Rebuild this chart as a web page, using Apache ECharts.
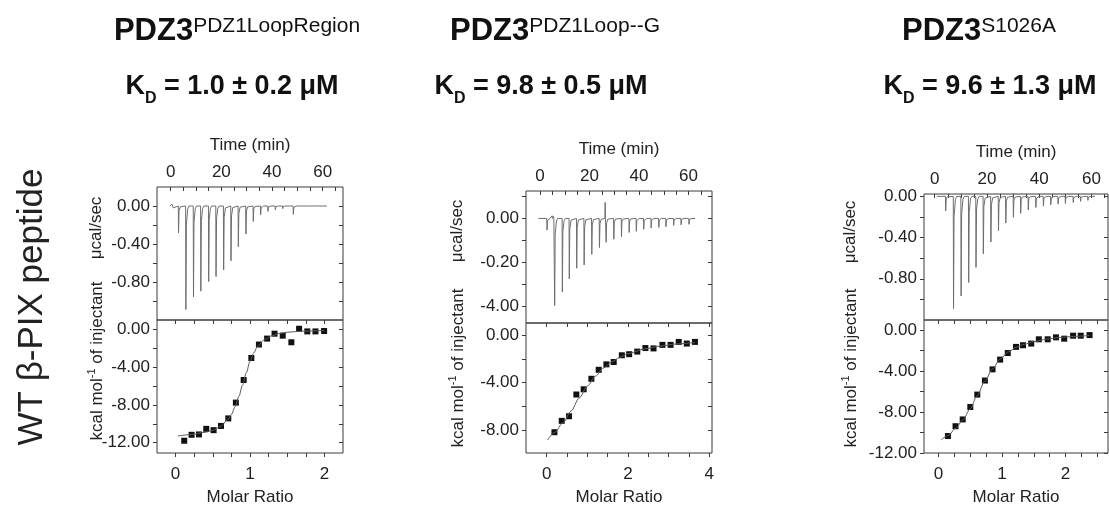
<!DOCTYPE html>
<html>
<head>
<meta charset="utf-8">
<script src="https://cdn.jsdelivr.net/npm/echarts@6/dist/echarts.min.js"></script>
<style>
html,body{margin:0;padding:0;background:#fff;}
#chart{width:1109px;height:507px;}
</style>
</head>
<body>
<div id="chart"></div>
<script>
// ---------- texts ----------
const panelTitles = ['PDZ3', 'PDZ3', 'PDZ3'];
const panelSuperscripts = ['PDZ1LoopRegion', 'PDZ1Loop--G', 'S1026A'];
const kdValues = ['1.0 ± 0.2 μM', '9.8 ± 0.5 μM', '9.6 ± 1.3 μM'];
const rowLabel = 'WT β-PIX peptide';
const timeAxisName = 'Time (min)';
const ratioAxisName = 'Molar Ratio';
const powerAxisName = 'μcal/sec';

// ---------- raw thermograms (injection time in min, peak depth in µcal/sec) ----------
const p1InjTime = [3.0,5.9,8.9,11.8,14.9,17.8,20.8,23.7,26.6,29.6,32.5,35.4,38.3,41.2,44.1,48.3,50.9,53.6,56.4,59.3];
const p1InjPeak = [-0.283,-1.09,-0.956,-0.896,-0.796,-0.743,-0.673,-0.577,-0.428,-0.294,-0.163,-0.092,-0.057,-0.039,-0.028,-0.088,-0.018,-0.014,-0.010,-0.010];
const p1TraceSpan = [-0.3, 61.6];
const p1Blips = [[0.4, 0.02], [0.9, -0.02]];

const p2InjTime = [2.7,5.8,8.9,11.7,14.7,17.7,20.8,23.9,26.6,29.7,32.8,35.9,38.8,41.8,44.8,47.9,50.8,53.9,56.9,60.1];
const p2InjPeak = [-0.053,-0.397,-0.336,-0.276,-0.227,-0.212,-0.164,-0.133,-0.109,-0.095,-0.083,-0.064,-0.059,-0.050,-0.044,-0.041,-0.038,-0.032,-0.029,-0.027];
const p2TraceSpan = [-0.7, 62.7];
const p2Blips = [[4.75, 0.012], [5.3, 0.01], [26.2, 0.073]];

const p3InjTime = [4.1,7.1,10.0,12.9,15.7,18.5,21.4,24.3,27.1,30.0,32.8,35.7,38.6,41.5,44.3,47.1,49.9,52.9,55.7,58.5];
const p3InjPeak = [-0.141,-1.09,-0.967,-0.836,-0.689,-0.557,-0.443,-0.334,-0.259,-0.203,-0.164,-0.131,-0.108,-0.095,-0.082,-0.075,-0.069,-0.059,-0.049,-0.039];
const p3TraceSpan = [0.9, 61.3];
const p3Blips = [];

// ---------- integrated heats ----------
const p1Ratio = [0.116,0.215,0.314,0.412,0.511,0.61,0.708,0.81,0.915,1.018,1.12,1.23,1.33,1.44,1.556,1.66,1.77,1.88,1.996];
const p1Heat  = [-11.8,-11.17,-11.13,-10.54,-10.68,-10.23,-9.43,-7.76,-5.36,-3.03,-1.6,-0.97,-0.45,-0.66,-1.36,0.07,-0.21,-0.21,-0.17];
const p2Ratio = [0.19,0.37,0.55,0.73,0.91,1.10,1.28,1.47,1.65,1.85,2.03,2.23,2.43,2.63,2.85,3.05,3.25,3.45,3.65];
const p2Heat  = [-8.19,-7.23,-6.84,-5.0,-4.56,-3.67,-2.91,-2.45,-2.25,-1.68,-1.59,-1.37,-1.07,-1.10,-0.80,-0.80,-0.55,-0.69,-0.55];
const p3Ratio = [0.147,0.267,0.38,0.50,0.61,0.73,0.85,0.97,1.09,1.22,1.33,1.46,1.58,1.72,1.85,1.98,2.12,2.24,2.38];
const p3Heat  = [-10.35,-9.39,-8.73,-7.52,-6.31,-4.94,-3.85,-2.9,-2.26,-1.66,-1.5,-1.34,-0.92,-0.92,-0.73,-0.86,-0.57,-0.57,-0.51];

// ---------- fitted curves ----------
const p1FitRatio = [0.03,0.2,0.4,0.5,0.6,0.7,0.75,0.8,0.85,0.9,0.95,1.0,1.05,1.1,1.2,1.3,1.4,1.5,1.7,2.0];
const p1FitHeat  = [-11.3,-11.15,-10.9,-10.7,-10.3,-9.6,-9.0,-8.2,-7.1,-5.9,-4.6,-3.4,-2.5,-1.8,-1.05,-0.65,-0.42,-0.3,-0.18,-0.12];
const p2FitRatio = [0.02,0.2,0.4,0.6,0.8,1.0,1.2,1.4,1.6,1.8,2.0,2.4,2.8,3.2,3.65];
const p2FitHeat  = [-8.85,-8.2,-7.4,-6.4,-5.3,-4.3,-3.45,-2.75,-2.25,-1.85,-1.55,-1.15,-0.9,-0.72,-0.6];
const p3FitRatio = [0.04,0.15,0.27,0.38,0.5,0.6,0.73,0.85,0.97,1.1,1.22,1.35,1.5,1.7,1.9,2.1,2.38];
const p3FitHeat  = [-10.73,-10.3,-9.6,-8.8,-7.7,-6.5,-5.0,-3.8,-2.85,-2.15,-1.7,-1.4,-1.15,-0.9,-0.75,-0.65,-0.55];

// ---------- tick labels ----------
const timeTicks = [0, 20, 40, 60];
const timeTickLabels = ['0', '20', '40', '60'];
const p1PowerTicks = [0, -0.4, -0.8];
const p1PowerTickLabels = ['0.00', '-0.40', '-0.80'];
const p2PowerTicks = [0, -0.2, -0.4];
const p2PowerTickLabels = ['0.00', '-0.20', '-4.00'];
const p3PowerTicks = [0, -0.4, -0.8];
const p3PowerTickLabels = ['0.00', '-0.40', '-0.80'];
const p1HeatTicks = [0, -4, -8, -12];
const p1HeatTickLabels = ['0.00', '-4.00', '-8.00', '-12.00'];
const p2HeatTicks = [0, -4, -8];
const p2HeatTickLabels = ['0.00', '-4.00', '-8.00'];
const p3HeatTicks = [0, -4, -8, -12];
const p3HeatTickLabels = ['0.00', '-4.00', '-8.00', '-12.00'];
const p1RatioTicks = [0, 1, 2];
const p1RatioTickLabels = ['0', '1', '2'];
const p2RatioTicks = [0, 2, 4];
const p2RatioTickLabels = ['0', '2', '4'];
const p3RatioTicks = [0, 1, 2];
const p3RatioTickLabels = ['0', '1', '2'];

// ---------- helpers ----------
function steps(a, b, s) {
  const out = [];
  const n = Math.round((b - a) / s);
  for (let i = 0; i <= n; i++) out.push(+(a + i * s).toFixed(4));
  return out;
}
function buildTrace(span, times, peaks, blips) {
  const ev = [];
  times.forEach((t, i) => ev.push({ t: t, v: peaks[i], inj: true }));
  blips.forEach(b => ev.push({ t: b[0], v: b[1], inj: false }));
  ev.sort((a, b) => a.t - b.t);
  const pts = [[span[0], 0]];
  ev.forEach(e => {
    if (e.inj) {
      pts.push([e.t, 0], [e.t + 0.1, e.v], [e.t + 0.3, e.v * 0.18], [e.t + 0.8, e.v * 0.03], [e.t + 1.3, 0]);
    } else {
      pts.push([e.t, 0], [e.t + 0.1, e.v], [e.t + 0.25, 0]);
    }
  });
  pts.push([span[1], 0]);
  return pts;
}
function zip(a, b) { return a.map((v, i) => [v, b[i]]); }
function labelFor(ticks, labels) {
  return function (v) {
    let best = 0, d = Infinity;
    ticks.forEach((t, i) => { const dd = Math.abs(t - v); if (dd < d) { d = dd; best = i; } });
    return labels[best];
  };
}

const FONT = '"Liberation Sans", Arial, Helvetica, sans-serif';
const AX = '#3a3a3a';
const TXT = '#222';

const panels = [
  {
    grid: [157, 187, 186, 133, 135],
    timeRange: [-5.4, 68], powerRange: [-1.2, 0.2], ratioRange: [-0.25, 2.25], heatRange: [-13.1, 1],
    trace: buildTrace(p1TraceSpan, p1InjTime, p1InjPeak, p1Blips),
    pts: zip(p1Ratio, p1Heat), fit: zip(p1FitRatio, p1FitHeat),
    powerTicks: p1PowerTicks, powerLabels: p1PowerTickLabels, powerMinor: steps(-1.0, 0, 0.2),
    heatTicks: p1HeatTicks, heatLabels: p1HeatTickLabels, heatMinor: steps(-12, 0, 2),
    ratioTicks: p1RatioTicks, ratioLabels: p1RatioTickLabels, ratioMinor: steps(0, 2, 0.25),
    timeMinor: steps(0, 65, 5)
  },
  {
    grid: [526, 191, 186, 132, 134],
    timeRange: [-5.7, 69.5], powerRange: [-0.477, 0.125], ratioRange: [-0.51, 4.07], heatRange: [-9.95, 1.05],
    trace: buildTrace(p2TraceSpan, p2InjTime, p2InjPeak, p2Blips),
    pts: zip(p2Ratio, p2Heat), fit: zip(p2FitRatio, p2FitHeat),
    powerTicks: p2PowerTicks, powerLabels: p2PowerTickLabels, powerMinor: steps(-0.4, 0.1, 0.1),
    heatTicks: p2HeatTicks, heatLabels: p2HeatTickLabels, heatMinor: steps(-8, 0, 2),
    ratioTicks: p2RatioTicks, ratioLabels: p2RatioTickLabels, ratioMinor: steps(0, 4, 0.5),
    timeMinor: steps(0, 65, 5)
  },
  {
    grid: [924, 194, 184, 126, 136],
    timeRange: [-4.1, 66.3], powerRange: [-1.2, 0.023], ratioRange: [-0.23, 2.67], heatRange: [-12, 0.96],
    trace: buildTrace(p3TraceSpan, p3InjTime, p3InjPeak, p3Blips),
    pts: zip(p3Ratio, p3Heat), fit: zip(p3FitRatio, p3FitHeat),
    powerTicks: p3PowerTicks, powerLabels: p3PowerTickLabels, powerMinor: steps(-1.0, 0, 0.2),
    heatTicks: p3HeatTicks, heatLabels: p3HeatTickLabels, heatMinor: steps(-12, 0, 2),
    ratioTicks: p3RatioTicks, ratioLabels: p3RatioTickLabels, ratioMinor: steps(0, 2.5, 0.25),
    timeMinor: steps(0, 65, 5)
  }
];

const grids = [], xAxes = [], yAxes = [], series = [];
const labelStyle = { color: TXT, fontSize: 17, fontFamily: FONT };
const nameStyle = { color: TXT, fontSize: 17, fontFamily: FONT };
const noLine = { show: false, onZero: false };

panels.forEach((p, i) => {
  const [L, T, W, H1, H2] = p.grid;
  const gTop = grids.length;
  grids.push({ left: L, top: T, width: W, height: H1, show: true, borderColor: AX, borderWidth: 1, backgroundColor: 'transparent' });
  const gBot = grids.length;
  grids.push({ left: L, top: T + H1, width: W, height: H2, show: true, borderColor: AX, borderWidth: 1, backgroundColor: 'transparent' });

  const xTime = xAxes.length;
  xAxes.push({
    gridIndex: gTop, type: 'value', position: 'top', min: p.timeRange[0], max: p.timeRange[1],
    axisLine: noLine, splitLine: { show: false },
    axisTick: { show: true, inside: true, length: 4, lineStyle: { color: AX }, customValues: p.timeMinor },
    axisLabel: { show: true, margin: 6, customValues: timeTicks, formatter: labelFor(timeTicks, timeTickLabels), ...labelStyle },
    name: timeAxisName, nameLocation: 'middle', nameGap: 33, nameTextStyle: nameStyle
  });
  const yPow = yAxes.length;
  yAxes.push({
    gridIndex: gTop, type: 'value', position: 'left', min: p.powerRange[0], max: p.powerRange[1],
    axisLine: noLine, splitLine: { show: false },
    axisTick: { show: true, inside: false, length: 4, lineStyle: { color: AX }, customValues: p.powerMinor },
    axisLabel: { show: true, margin: 7, customValues: p.powerTicks, formatter: labelFor(p.powerTicks, p.powerLabels), ...labelStyle }
  });
  yAxes.push({
    gridIndex: gTop, type: 'value', position: 'right', min: p.powerRange[0], max: p.powerRange[1],
    axisLine: noLine, splitLine: { show: false },
    axisTick: { show: true, inside: true, length: 4, lineStyle: { color: AX }, customValues: p.powerMinor },
    axisLabel: { show: false }
  });
  const xRat = xAxes.length;
  xAxes.push({
    gridIndex: gBot, type: 'value', position: 'bottom', min: p.ratioRange[0], max: p.ratioRange[1],
    axisLine: noLine, splitLine: { show: false },
    axisTick: { show: true, inside: false, length: 4, lineStyle: { color: AX }, customValues: p.ratioMinor },
    axisLabel: { show: true, margin: 13, customValues: p.ratioTicks, formatter: labelFor(p.ratioTicks, p.ratioLabels), ...labelStyle },
    name: ratioAxisName, nameLocation: 'middle', nameGap: 36, nameTextStyle: nameStyle
  });
  xAxes.push({
    gridIndex: gBot, type: 'value', position: 'top', min: p.ratioRange[0], max: p.ratioRange[1],
    axisLine: noLine, splitLine: { show: false },
    axisTick: { show: true, inside: true, length: 4, lineStyle: { color: AX }, customValues: p.ratioMinor },
    axisLabel: { show: false }
  });
  const yHeat = yAxes.length;
  yAxes.push({
    gridIndex: gBot, type: 'value', position: 'left', min: p.heatRange[0], max: p.heatRange[1],
    axisLine: noLine, splitLine: { show: false },
    axisTick: { show: true, inside: false, length: 4, lineStyle: { color: AX }, customValues: p.heatMinor },
    axisLabel: { show: true, margin: 7, customValues: p.heatTicks, formatter: labelFor(p.heatTicks, p.heatLabels), ...labelStyle }
  });
  yAxes.push({
    gridIndex: gBot, type: 'value', position: 'right', min: p.heatRange[0], max: p.heatRange[1],
    axisLine: noLine, splitLine: { show: false },
    axisTick: { show: true, inside: true, length: 4, lineStyle: { color: AX }, customValues: p.heatMinor },
    axisLabel: { show: false }
  });

  series.push({
    type: 'line', xAxisIndex: xTime, yAxisIndex: yPow, data: p.trace, showSymbol: false, symbol: 'none',
    lineStyle: { color: '#6e6e6e', width: 1 }, silent: true, animation: false
  });
  series.push({
    type: 'line', xAxisIndex: xRat, yAxisIndex: yHeat, data: p.fit, symbol: 'none', smooth: 0.3, smoothMonotone: 'x',
    lineStyle: { color: '#5a5a5a', width: 1 }, silent: true, animation: false
  });
  series.push({
    type: 'scatter', xAxisIndex: xRat, yAxisIndex: yHeat, data: p.pts, symbol: 'rect', symbolSize: 6,
    itemStyle: { color: '#111', opacity: 1 }, silent: true, animation: false
  });
});

// ---------- text graphics ----------
const titleX = [237, 555, 979];
const kdX = [232, 541, 990];
const yNameX = [96, 457, 850];
const powNameY = [228, 231, 232];
const heatNameY = [361, 368, 368];

const graphics = [];
panels.forEach((p, i) => {
  graphics.push({
    type: 'text', x: titleX[i], y: 16, silent: true,
    style: {
      text: '{m|' + panelTitles[i] + '}{s|' + panelSuperscripts[i] + '}',
      textAlign: 'center', textVerticalAlign: 'top',
      rich: {
        m: { fontSize: 31, fontWeight: 'bold', fontFamily: FONT, fill: '#111', lineHeight: 32, verticalAlign: 'top' },
        s: { fontSize: 21, fontFamily: FONT, fill: '#111', lineHeight: 24, verticalAlign: 'top' }
      }
    }
  });
  graphics.push({
    type: 'text', x: kdX[i], y: 73, silent: true,
    style: {
      text: '{m|K}{d|D}{m| = ' + kdValues[i] + '}',
      textAlign: 'center', textVerticalAlign: 'top',
      rich: {
        m: { fontSize: 27, fontWeight: 'bold', fontFamily: FONT, fill: '#111', lineHeight: 30, verticalAlign: 'top' },
        d: { fontSize: 16, fontWeight: 'bold', fontFamily: FONT, fill: '#111', lineHeight: 34, verticalAlign: 'bottom' }
      }
    }
  });
  graphics.push({
    type: 'text', x: yNameX[i], y: powNameY[i], rotation: Math.PI / 2, silent: true,
    style: { text: powerAxisName, font: '17px ' + FONT, fill: TXT, textAlign: 'center', textVerticalAlign: 'middle' }
  });
  graphics.push({
    type: 'text', x: yNameX[i], y: heatNameY[i], rotation: Math.PI / 2, silent: true,
    style: {
      text: '{a|kcal mol}{s|-1}{a| of injectant}',
      textAlign: 'center', textVerticalAlign: 'middle',
      rich: {
        a: { fontSize: 17, fontFamily: FONT, fill: TXT, lineHeight: 20, verticalAlign: 'bottom' },
        s: { fontSize: 11, fontFamily: FONT, fill: TXT, lineHeight: 14, verticalAlign: 'top' }
      }
    }
  });
});
graphics.push({
  type: 'text', x: 32, y: 307, rotation: Math.PI / 2, silent: true,
  style: { text: rowLabel, font: '35px ' + FONT, fill: '#222', textAlign: 'center', textVerticalAlign: 'middle' }
});

const chart = echarts.init(document.getElementById('chart'), null, { renderer: 'canvas', width: 1109, height: 507 });
chart.setOption({
  backgroundColor: '#fff',
  animation: false,
  grid: grids,
  xAxis: xAxes,
  yAxis: yAxes,
  series: series,
  graphic: graphics
});
</script>
</body>
</html>
